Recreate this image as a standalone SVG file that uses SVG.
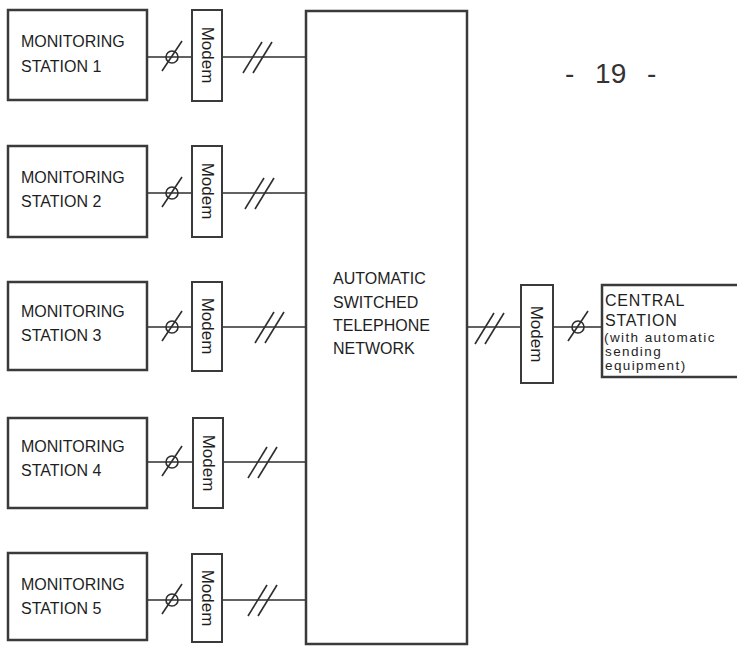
<svg xmlns="http://www.w3.org/2000/svg" width="737" height="646" viewBox="0 0 737 646">
<style>
.box{fill:#fff;stroke:#3a3a3a;stroke-width:2.5}
.mbox{fill:#fff;stroke:#3a3a3a;stroke-width:2}
.ln{fill:none;stroke:#2e2e2e;stroke-width:1.6}
.t{font-family:"Liberation Sans",Arial,sans-serif;font-size:16px;fill:#1e1e1e}
.s{font-family:"Liberation Sans",Arial,sans-serif;font-size:13.5px;letter-spacing:1.4px;fill:#1e1e1e}
.m{font-family:"Liberation Sans",Arial,sans-serif;font-size:17px;fill:#1e1e1e;text-anchor:middle}
.pg{font-family:"Liberation Sans",Arial,sans-serif;font-size:28px;fill:#333;word-spacing:13px}
</style>
<rect width="737" height="646" fill="#fff"/>
<defs>
<g id="single"><circle cx="0" cy="0" r="6" class="ln"/><line x1="-10" y1="14" x2="10" y2="-16" class="ln"/></g>
<g id="double"><line x1="-10" y1="16" x2="9" y2="-15" class="ln"/><line x1="0" y1="16" x2="19" y2="-15" class="ln"/></g>
</defs>
<g id="connectors">
<line x1="147" y1="57" x2="192" y2="57" class="ln"/><line x1="222" y1="57" x2="306" y2="57" class="ln"/>
<use href="#single" x="172" y="57"/><use href="#double" x="253" y="57"/>
<line x1="147" y1="193" x2="192" y2="193" class="ln"/><line x1="222" y1="193" x2="306" y2="193" class="ln"/>
<use href="#single" x="172" y="193"/><use href="#double" x="255" y="193"/>
<line x1="147" y1="327" x2="192" y2="327" class="ln"/><line x1="222" y1="327" x2="306" y2="327" class="ln"/>
<use href="#single" x="172" y="327"/><use href="#double" x="265" y="327"/>
<line x1="147" y1="462" x2="192" y2="462" class="ln"/><line x1="222" y1="462" x2="306" y2="462" class="ln"/>
<use href="#single" x="172" y="462"/><use href="#double" x="258" y="462"/>
<line x1="147" y1="600" x2="192" y2="600" class="ln"/><line x1="222" y1="600" x2="306" y2="600" class="ln"/>
<use href="#single" x="172" y="600"/><use href="#double" x="258" y="600"/>
<line x1="467" y1="327" x2="521" y2="327" class="ln"/><line x1="553" y1="327" x2="602" y2="327" class="ln"/>
<use href="#double" x="485" y="328"/><use href="#single" x="578" y="327"/>
</g>
<g id="station1"><rect x="8" y="10" width="139" height="90" class="box"/><text class="t" x="21" y="47">MONITORING</text><text class="t" x="21" y="72">STATION 1</text></g>
<g id="station2"><rect x="8" y="146" width="139" height="91" class="box"/><text class="t" x="21" y="183">MONITORING</text><text class="t" x="21" y="207">STATION 2</text></g>
<g id="station3"><rect x="8" y="282" width="139" height="88" class="box"/><text class="t" x="21" y="317">MONITORING</text><text class="t" x="21" y="341">STATION 3</text></g>
<g id="station4"><rect x="8" y="418" width="139" height="90" class="box"/><text class="t" x="21" y="452">MONITORING</text><text class="t" x="21" y="476">STATION 4</text></g>
<g id="station5"><rect x="8" y="553" width="139" height="87" class="box"/><text class="t" x="21" y="590">MONITORING</text><text class="t" x="21" y="614">STATION 5</text></g>
<g id="modem1"><rect x="192" y="10" width="30" height="91" class="mbox"/><text class="m" transform="translate(202,55) rotate(90)">Modem</text></g>
<g id="modem2"><rect x="192" y="146" width="30" height="91" class="mbox"/><text class="m" transform="translate(202,191) rotate(90)">Modem</text></g>
<g id="modem3"><rect x="192" y="282" width="30" height="89" class="mbox"/><text class="m" transform="translate(202,326) rotate(90)">Modem</text></g>
<g id="modem4"><rect x="193" y="418" width="30" height="90" class="mbox"/><text class="m" transform="translate(203,463) rotate(90)">Modem</text></g>
<g id="modem5"><rect x="192" y="554" width="30" height="88" class="mbox"/><text class="m" transform="translate(202,598) rotate(90)">Modem</text></g>
<g id="network"><rect x="306" y="11" width="161" height="633" class="box"/>
<text class="t" x="333" y="284">AUTOMATIC</text><text class="t" x="333" y="308">SWITCHED</text><text class="t" x="333" y="331">TELEPHONE</text><text class="t" x="333" y="354">NETWORK</text></g>
<g id="modemC"><rect x="521" y="285" width="32" height="98" class="mbox"/><text class="m" transform="translate(531,334) rotate(90)">Modem</text></g>
<g id="central"><rect x="602" y="285" width="140" height="92" class="box"/>
<text class="t" x="605" y="306" letter-spacing="0.8">CENTRAL</text><text class="t" x="605" y="326" letter-spacing="0.8">STATION</text><text class="s" x="604" y="342">(with automatic</text><text class="s" x="605" y="356">sending</text><text class="s" x="605" y="370">equipment)</text></g>
<text class="pg" x="565" y="83">- 19 -</text>
</svg>
